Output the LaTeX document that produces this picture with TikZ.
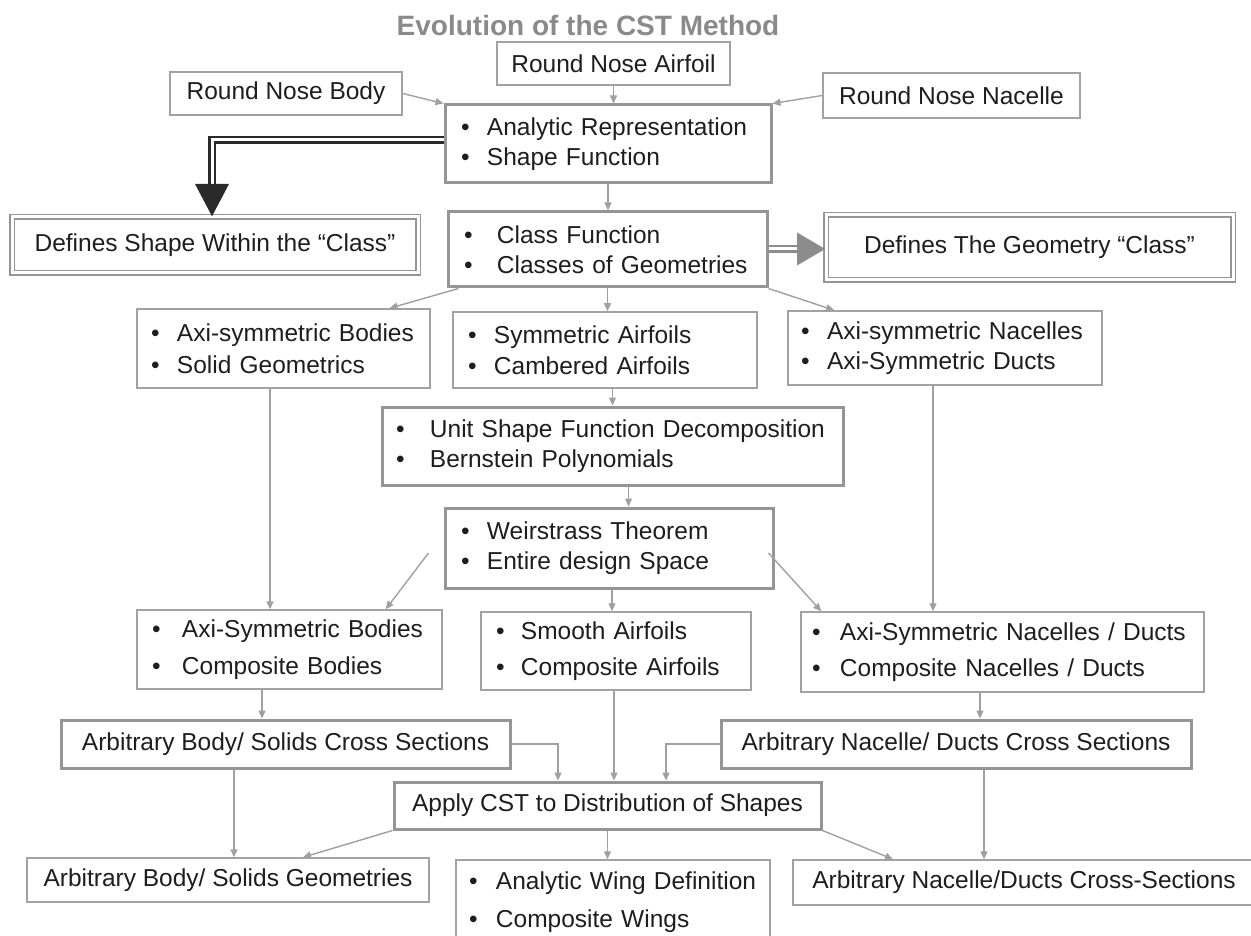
\documentclass[tikz,border=0pt]{standalone}
\usepackage{fontspec}
\setmainfont{Liberation Sans}
\usetikzlibrary{arrows.meta}

\definecolor{ink}{HTML}{1E1E1E}
\definecolor{boxgray}{HTML}{A2A2A2}
\definecolor{heavygray}{HTML}{959595}
\definecolor{linegray}{HTML}{A0A0A0}
\definecolor{titlegray}{HTML}{8A8A8A}
\definecolor{darkline}{HTML}{2A2A2A}
\definecolor{pipegray}{HTML}{8C8C8C}

\newcommand{\cstbul}[1][26pt]{\makebox[#1][l]{\textbullet}}

\tikzset{
  cstbox/.style={draw=boxgray, line width=1.5pt, fill=white, text=ink, inner sep=0pt},
  cstheavy/.style={cstbox, draw=heavygray, line width=3pt},
  cstframe/.style={cstbox, draw=heavygray, line width=1.5pt, double=white, double distance=3pt},
  cstlist/.style={align=left, inner ysep=0pt},
  cstlink/.style={draw=linegray, line width=1.4pt, -{Triangle[length=8pt,width=7pt]}},
  cstpipe/.style={draw=#1, line width=2.5pt, double=white, double distance=3pt},
  csttitle/.style={text=titlegray, font=\fontsize{28}{32}\selectfont\bfseries}
}

\begin{document}
\begin{tikzpicture}[x=1pt, y=-1pt, font=\fontsize{24.5}{29.5}\selectfont]
  \useasboundingbox (0,0) rectangle (1251,936);
  \fill[white] (0,0) rectangle (1251,936);
  \clip (0,0) rectangle (1251,936);

  % Title
  \node[csttitle] (title) at (588,25) {Evolution of the CST Method};

  % Round nose inputs
  \node[cstbox, minimum width=232pt, minimum height=43pt] (body) at (286,93.5) {Round Nose Body};
  \node[cstbox, minimum width=233pt, minimum height=43pt] (airfoil) at (613.5,63.5) {Round Nose Airfoil};
  \node[cstbox, minimum width=257pt, minimum height=45pt] (nacelle) at (951.5,95.5) {Round Nose Nacelle};

  % Shape function and class function
  \node[cstheavy, cstlist, inner xsep=16pt, text width=294pt, minimum height=78pt] (analytic) at (608,144)
    {\cstbul Analytic Representation\\\cstbul Shape Function};
  \node[cstheavy, cstlist, inner xsep=16pt, text width=287pt, minimum height=75pt] (classfn) at (607.5,249.5)
    {\cstbul[33pt]Class Function\\\cstbul[33pt]Classes of Geometries};
  \node[cstframe, minimum width=406pt, minimum height=56pt] (shapedef) at (215,245) {Defines Shape Within the “Class”};
  \node[cstframe, minimum width=407pt, minimum height=65pt] (geomdef) at (1029.5,247.5) {Defines The Geometry “Class”};

  % Geometry classes
  \node[cstbox, cstlist, inner xsep=14pt, text width=265pt, minimum height=79pt] (axibody) at (283.5,348.5)
    {\cstbul Axi-symmetric Bodies\\[2pt]\cstbul Solid Geometrics};
  \node[cstbox, cstlist, inner xsep=15pt, text width=274pt, minimum height=76pt] (symair) at (605,350)
    {\cstbul Symmetric Airfoils\\[2pt]\cstbul Cambered Airfoils};
  \node[cstbox, cstlist, inner xsep=13pt, text width=288pt, minimum height=74pt] (axinac) at (945,348)
    {\cstbul Axi-symmetric Nacelles\\\cstbul Axi-Symmetric Ducts};

  % Decomposition
  \node[cstheavy, cstlist, inner xsep=14pt, text width=433pt, minimum height=78pt] (unitshape) at (612.5,446)
    {\cstbul[34pt]Unit Shape Function Decomposition\\\cstbul[34pt]Bernstein Polynomials};
  \node[cstheavy, cstlist, inner xsep=16pt, text width=296pt, minimum height=80pt] (weier) at (609,548)
    {\cstbul Weirstrass Theorem\\\cstbul Entire design Space};

  % Composite geometries
  \node[cstbox, cstlist, inner xsep=15pt, text width=275pt, minimum height=79pt] (axibody2) at (289.5,649.5)
    {\cstbul[30pt]Axi-Symmetric Bodies\\[7pt]\cstbul[30pt]Composite Bodies};
  \node[cstbox, cstlist, inner xsep=15pt, text width=240pt, minimum height=78pt] (smooth) at (616,651)
    {\cstbul[25pt]Smooth Airfoils\\[7pt]\cstbul[25pt]Composite Airfoils};
  \node[cstbox, cstlist, inner xsep=11pt, text width=381pt, minimum height=80pt] (axinac2) at (1002.5,652)
    {\cstbul[28pt]Axi-Symmetric Nacelles / Ducts\\[7pt]\cstbul[28pt]Composite Nacelles / Ducts};

  % Cross sections and distribution
  \node[cstheavy, minimum width=449pt, minimum height=48pt] (arbbodycs) at (285.5,744) {Arbitrary Body/ Solids Cross Sections};
  \node[cstheavy, minimum width=470pt, minimum height=48pt] (arbnaccs) at (956,744) {Arbitrary Nacelle/ Ducts Cross Sections};
  \node[cstheavy, minimum width=427pt, minimum height=47pt] (apply) at (607.5,805.5) {Apply CST to Distribution of Shapes};

  % Results
  \node[cstbox, minimum width=402pt, minimum height=44pt] (arbbodygeo) at (228,880) {Arbitrary Body/ Solids Geometries};
  \node[cstbox, cstlist, inner xsep=13pt, text width=288pt, minimum height=84pt] (wing) at (613,902)
    {\cstbul[27pt]Analytic Wing Definition\\[8pt]\cstbul[27pt]Composite Wings};
  \node[cstbox, minimum width=462pt, minimum height=45pt] (arbnacgeo) at (1024,882.5) {Arbitrary Nacelle/Ducts Cross-Sections};

  % Inputs into the shape function
  \draw[cstlink] (body.east) -- (analytic.north west);
  \draw[cstlink] (airfoil.south) -- (airfoil.south |- analytic.north);
  \draw[cstlink] (nacelle.west) -- (analytic.north east);
  \draw[cstlink] (analytic.south) -- (analytic.south |- classfn.north);

  % Double arrows to the definitions
  \coordinate (lbend) at (212,140);
  \coordinate (lhead) at (212,184);
  \draw[cstpipe=darkline] (analytic.west |- lbend) -- (lbend) -- (lhead);
  \fill[darkline] ([xshift=-17pt]lhead) -- ([xshift=17pt]lhead) -- (shapedef.north -| lhead) -- cycle;
  \coordinate (rhead) at (797,249);
  \draw[cstpipe=pipegray] (classfn.east |- rhead) -- (rhead);
  \fill[pipegray] ([yshift=16.5pt]rhead) -- ([yshift=-16.5pt]rhead) -- (geomdef.west |- rhead) -- cycle;

  % Class function fans out
  \draw[cstlink] ([xshift=12pt]classfn.south west) -- ([xshift=106pt]axibody.north);
  \draw[cstlink] (classfn.south) -- (classfn.south |- symair.north);
  \draw[cstlink] (classfn.south east) -- ([xshift=47pt]axinac.north west);
  \draw[cstlink] (unitshape.north |- symair.south) -- (unitshape.north);
  \draw[cstlink] ([xshift=16pt]unitshape.south) -- ([xshift=16pt]unitshape.south |- weier.north);

  % Down to the composite geometries
  \draw[cstlink] ([xshift=-13.5pt]axibody.south) -- ([xshift=-13.5pt]axibody.south |- axibody2.north);
  \draw[cstlink] ([xshift=-12pt]axinac.south) -- ([xshift=-12pt]axinac.south |- axinac2.north);
  \draw[cstlink] ([xshift=-15pt,yshift=-5pt]weier.west) -- ([xshift=-57pt]axibody2.north east);
  \draw[cstlink] ([xshift=-6pt,yshift=-5pt]weier.east) -- ([xshift=21pt]axinac2.north west);
  \draw[cstlink] ([xshift=3pt]weier.south) -- ([xshift=3pt]weier.south |- smooth.north);

  % Cross sections
  \draw[cstlink] ([xshift=-27.5pt]axibody2.south) -- ([xshift=-27.5pt]axibody2.south |- arbbodycs.north);
  \draw[cstlink] ([xshift=-22.5pt]axinac2.south) -- ([xshift=-22.5pt]axinac2.south |- arbnaccs.north);
  \draw[cstlink] (arbbodycs.east) -| ([xshift=-49.5pt]apply.north);
  \draw[cstlink] ([xshift=-2pt]smooth.south) -- ([xshift=-2pt]smooth.south |- apply.north);
  \draw[cstlink] (arbnaccs.west) -| ([xshift=58.5pt]apply.north);

  % Results
  \draw[cstlink] (apply.south west) -- ([xshift=75pt]arbbodygeo.north);
  \draw[cstlink] (apply.south) -- (apply.south |- wing.north);
  \draw[cstlink] (apply.south east) -- ([xshift=-131pt]arbnacgeo.north);
  \draw[cstlink] ([xshift=-51.5pt]arbbodycs.south) -- ([xshift=-51.5pt]arbbodycs.south |- arbbodygeo.north);
  \draw[cstlink] ([xshift=28pt]arbnaccs.south) -- ([xshift=28pt]arbnaccs.south |- arbnacgeo.north);
\end{tikzpicture}
\end{document}
